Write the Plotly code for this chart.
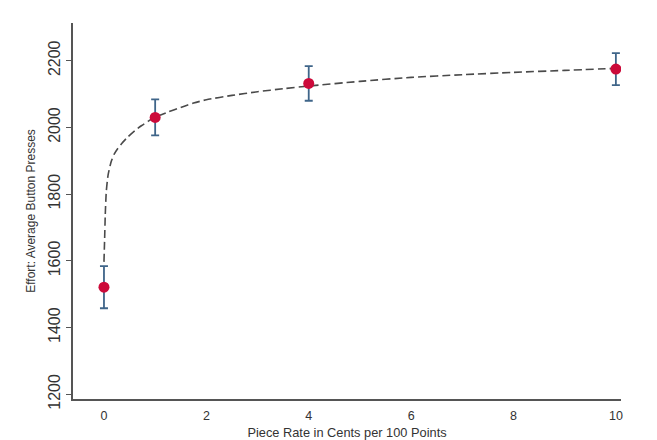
import plotly.graph_objects as go

# Observed means by piece rate (cents per 100 points)
piece_rate = [0, 1, 4, 10]
effort_mean = [1521, 2030, 2132, 2175]
effort_ci = [63, 54, 52, 48]

# Fitted curve
curve_x = [0, 0.013, 0.025, 0.045, 0.08, 0.14, 0.2, 0.27, 0.37, 0.47, 0.6, 0.73, 0.86, 1.0,
           1.25, 1.5, 1.75, 2, 2.5, 3, 3.5, 4, 5, 6, 7, 8, 9, 10]
curve_y = [1597, 1667, 1737, 1807, 1857, 1897, 1920, 1937, 1956, 1972, 1990, 2005, 2018, 2031,
           2046, 2060, 2073, 2083, 2096, 2107, 2116, 2124, 2138, 2150, 2158, 2165, 2171, 2177]

x_ticks = [0, 2, 4, 6, 8, 10]
y_ticks = [1200, 1400, 1600, 1800, 2000, 2200]

fig = go.Figure()
fig.add_trace(go.Scatter(
    x=curve_x, y=curve_y, mode="lines",
    line=dict(color="#4a4a4a", width=1.6, dash="8px,4px", shape="spline", smoothing=0.6),
    hoverinfo="skip", showlegend=False))
fig.add_trace(go.Scatter(
    x=piece_rate, y=effort_mean, mode="markers",
    marker=dict(color="#cc0a3a", size=11, line=dict(width=0)),
    error_y=dict(type="data", array=effort_ci, visible=True,
                 color="#3f6589", thickness=1.8, width=4),
    showlegend=False))

fig.update_layout(
    width=657, height=440,
    margin=dict(l=73, r=36, t=23, b=41),
    paper_bgcolor="white", plot_bgcolor="white",
    font=dict(family="Liberation Sans, Arial, sans-serif", color="#333333"),
    xaxis=dict(range=[-0.605, 10.1], tickvals=x_ticks, ticks="outside", ticklen=4,
               tickcolor="rgba(0,0,0,0)", automargin=False,
               showline=True, linecolor="#555555", linewidth=1.5,
               showgrid=False, zeroline=False,
               tickfont=dict(size=12.5, color="#333333"),
               title=dict(text="Piece Rate in Cents per 100 Points",
                          font=dict(size=12.8, color="#333333"), standoff=6)),
    yaxis=dict(range=[1186, 2313], tickvals=y_ticks, ticks="outside", ticklen=5,
               tickcolor="#555555", tickwidth=1.3, automargin=False,
               showline=True, linecolor="#555555", linewidth=1.5,
               showgrid=False, zeroline=False, tickangle=-90,
               tickfont=dict(size=16, color="#333333"),
               title=dict(text="Effort: Average Button Presses",
                          font=dict(size=12, color="#333333"), standoff=8)),
)

fig.write_html("out.html", config={"displayModeBar": False},
               post_script="document.body.style.margin='0';document.body.style.overflow='hidden';")
